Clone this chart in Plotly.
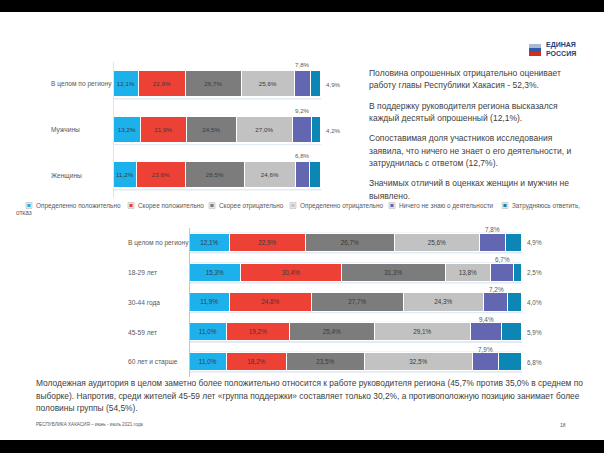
import plotly.graph_objects as go

W, H = 604, 453


def fx(p):
    return p / W


def fy(p):
    return 1 - p / H


series_names = ["Определенно положительно", "Скорее положительно", "Скорее отрицательно",
                "Определенно отрицательно", "Ничего не знаю о деятельности",
                "Затрудняюсь ответить, отказ"]
colors = ["#1DB1EC", "#EE4136", "#7C7C7C", "#C2C2C2", "#6366B1", "#0B86B5"]

gender_categories = ["В целом по региону", "Мужчины", "Женщины"]
gender_values = [
    [12.1, 13.2, 11.2],
    [22.9, 21.9, 23.6],
    [26.7, 24.5, 28.5],
    [25.6, 27.0, 24.6],
    [7.8, 9.2, 6.8],
    [4.9, 4.2, 5.4],
]

age_categories = ["В целом по региону", "18-29 лет", "30-44 года", "45-59 лет", "60 лет и старше"]
age_values = [
    [12.1, 15.3, 11.9, 11.0, 11.0],
    [22.9, 30.4, 24.8, 19.2, 18.2],
    [26.7, 31.3, 27.7, 25.4, 23.5],
    [25.6, 13.8, 24.3, 29.1, 32.5],
    [7.8, 6.7, 7.2, 9.4, 7.9],
    [4.9, 2.5, 4.0, 5.9, 6.8],
]

right_paragraphs = [
    ["Половина опрошенных отрицательно оценивает",
     "работу главы Республики Хакасия - 52,3%."],
    ["В поддержку руководителя региона высказался",
     "каждый десятый опрошенный (12,1%)."],
    ["Сопоставимая доля участников исследования",
     "заявила, что ничего не знает о его деятельности, и",
     "затруднилась с ответом (12,7%)."],
    ["Значимых отличий в оценках женщин и мужчин не",
     "выявлено."],
]
bottom_lines = [
    "Молодежная аудитория в целом заметно более положительно относится к работе руководителя региона (45,7% против 35,0% в среднем по",
    "выборке). Напротив, среди жителей 45-59 лет «группа поддержки» составляет только 30,2%, а противоположную позицию занимает более",
    "половины группы (54,5%).",
]
footer_text = "РЕСПУБЛИКА ХАКАСИЯ – июнь - июль 2021 года"
page_number = "18"

FONT = "Liberation Sans, Arial, sans-serif"
TEXT_COLOR = "#404040"
LABEL_COLOR = "#595959"


def fmt(v):
    return f"{v:.1f}".replace(".", ",") + "%"


fig = go.Figure()
annotations = []
shapes = []


def add_chart(cats, vals, xa, ya, bar_w, pad, lbl_size, top_shift, cat_x, cat_size):
    n = len(cats)
    idx = list(range(n))
    for k, name in enumerate(series_names):
        fig.add_trace(go.Bar(
            y=idx, x=vals[k], orientation="h", name=name,
            xaxis=xa, yaxis=ya, width=bar_w,
            marker=dict(color=colors[k], line=dict(color="white", width=1.3)),
            text=[fmt(v) for v in vals[k]] if k < 4 else None,
            textposition="inside", insidetextanchor="middle",
            constraintext="none", textangle=0,
            textfont=dict(size=lbl_size, color="#3A3A3A", family=FONT),
            hoverinfo="skip", showlegend=False,
        ))
    for i in idx:
        before = sum(vals[k][i] for k in range(4))
        total = sum(vals[k][i] for k in range(6))
        shapes.append(dict(type="rect", xref=xa, yref=ya, x0=0, x1=total,
                           y0=i - bar_w / 2 - pad, y1=i + bar_w / 2 + pad,
                           fillcolor="#E2EBF3", line=dict(width=0), layer="below"))
        annotations.append(dict(xref=xa, yref=ya, x=before + vals[4][i] / 2, y=i,
                                yshift=top_shift, text=fmt(vals[4][i]), showarrow=False,
                                font=dict(size=lbl_size, color=LABEL_COLOR, family=FONT)))
        annotations.append(dict(xref=xa, yref=ya, x=total, y=i, xanchor="left", xshift=3,
                                text=fmt(vals[5][i]), showarrow=False,
                                font=dict(size=lbl_size, color=LABEL_COLOR, family=FONT)))
        annotations.append(dict(xref="paper", yref=ya, x=fx(cat_x), y=i, xanchor="left",
                                text=cats[i], showarrow=False,
                                font=dict(size=cat_size, color=LABEL_COLOR, family=FONT)))


add_chart(gender_categories, gender_values, "x", "y", 0.59, 0.035, 6.2, 20, 49, 6.6)
add_chart(age_categories, age_values, "x2", "y2", 0.61, 0.05, 6.4, 13, 126, 6.6)

# legend (manual)
legend_x = [29, 131, 212, 293, 392, 505]
legend_y = 205.5
for k, name in enumerate(series_names):
    sx = legend_x[k]
    shapes.append(dict(type="rect", xref="paper", yref="paper",
                       x0=fx(sx - 3), x1=fx(sx + 3), y0=fy(legend_y + 3), y1=fy(legend_y - 3),
                       fillcolor="#EDEDED", line=dict(color="#BBBBBB", width=0.6)))
    shapes.append(dict(type="rect", xref="paper", yref="paper",
                       x0=fx(sx - 1.6), x1=fx(sx + 1.6), y0=fy(legend_y + 1.6), y1=fy(legend_y - 1.6),
                       fillcolor=colors[k], line=dict(width=0)))
    parts = name.split(", ")
    first = parts[0] + ("," if len(parts) > 1 else "")
    annotations.append(dict(xref="paper", yref="paper", x=fx(sx + 5), y=fy(legend_y),
                            xanchor="left", yanchor="middle", text=first, showarrow=False,
                            font=dict(size=6.4, color=LABEL_COLOR, family=FONT)))
    if len(parts) > 1:
        annotations.append(dict(xref="paper", yref="paper", x=fx(14), y=fy(212.5),
                                xanchor="left", yanchor="middle", text=parts[1], showarrow=False,
                                font=dict(size=6.4, color=LABEL_COLOR, family=FONT)))

# right text block
para_start = [72.7, 106.0, 138.3, 183.3]
for p, lines in enumerate(right_paragraphs):
    for j, line in enumerate(lines):
        annotations.append(dict(xref="paper", yref="paper", x=fx(367), y=fy(para_start[p] + j * 12.4),
                                xanchor="left", yanchor="middle", text=line, showarrow=False,
                                font=dict(size=8.5, color=TEXT_COLOR, family=FONT)))

# bottom text
for j, line in enumerate(bottom_lines):
    annotations.append(dict(xref="paper", yref="paper", x=fx(34), y=fy(383.3 + j * 12.5),
                            xanchor="left", yanchor="middle", text=line, showarrow=False,
                            font=dict(size=8.4, color=TEXT_COLOR, family=FONT)))

# footer
annotations.append(dict(xref="paper", yref="paper", x=fx(34), y=fy(424.5), xanchor="left",
                        yanchor="middle", text=footer_text, showarrow=False,
                        font=dict(size=4.6, color="#595959", family=FONT)))
annotations.append(dict(xref="paper", yref="paper", x=fx(563), y=fy(424.5), xanchor="center",
                        yanchor="middle", text=page_number, showarrow=False,
                        font=dict(size=5, color="#595959", family=FONT)))

# logo
stripe_cols = ["#A9B9D3", "#2D5DA8", "#D62B20"]
for s, c in enumerate(stripe_cols):
    shapes.append(dict(type="rect", xref="paper", yref="paper",
                       x0=fx(529), x1=fx(541), y0=fy(44 + 4 * (s + 1)), y1=fy(44 + 4 * s),
                       fillcolor=c, line=dict(width=0)))
annotations.append(dict(xref="paper", yref="paper", x=fx(544), y=fy(45.5), xanchor="left",
                        yanchor="middle", text="<b>ЕДИНАЯ</b>", showarrow=False,
                        font=dict(size=7, color="#1E3C78", family=FONT)))
annotations.append(dict(xref="paper", yref="paper", x=fx(544), y=fy(53), xanchor="left",
                        yanchor="middle", text="<b>РОССИЯ</b>", showarrow=False,
                        font=dict(size=7, color="#1E3C78", family=FONT)))

# black bands (screen capture borders)
shapes.append(dict(type="rect", xref="paper", yref="paper", x0=0, x1=1, y0=fy(12), y1=1,
                   fillcolor="black", line=dict(width=0)))
shapes.append(dict(type="rect", xref="paper", yref="paper", x0=0, x1=1, y0=0, y1=fy(440),
                   fillcolor="black", line=dict(width=0)))

fig.update_layout(
    width=W, height=H, margin=dict(l=0, r=0, t=0, b=0),
    paper_bgcolor="white", plot_bgcolor="white",
    barmode="stack", bargap=0, showlegend=False,
    font=dict(family=FONT),
    xaxis=dict(domain=[fx(114), fx(321)], range=[0, 100], visible=False, fixedrange=True),
    yaxis=dict(domain=[fy(198.3), fy(61.7)], range=[2.5, -0.5], showticklabels=False,
               showgrid=False, zeroline=False, showline=True, linecolor="#E3E3E3",
               linewidth=1, ticks="", anchor="x"),
    xaxis2=dict(domain=[fx(190), fx(522)], range=[0, 100], visible=False, anchor="y2"),
    yaxis2=dict(domain=[fy(377.1), fy(228.1)], range=[4.5, -0.5], showticklabels=False,
                showgrid=False, zeroline=False, showline=True, linecolor="#C4C4C4",
                linewidth=1, ticks="", anchor="x2"),
    shapes=shapes, annotations=annotations,
)

fig.write_html(
    "out.html",
    config={"displayModeBar": False},
    post_script="document.body.style.margin='0';document.body.style.overflow='hidden';",
)
